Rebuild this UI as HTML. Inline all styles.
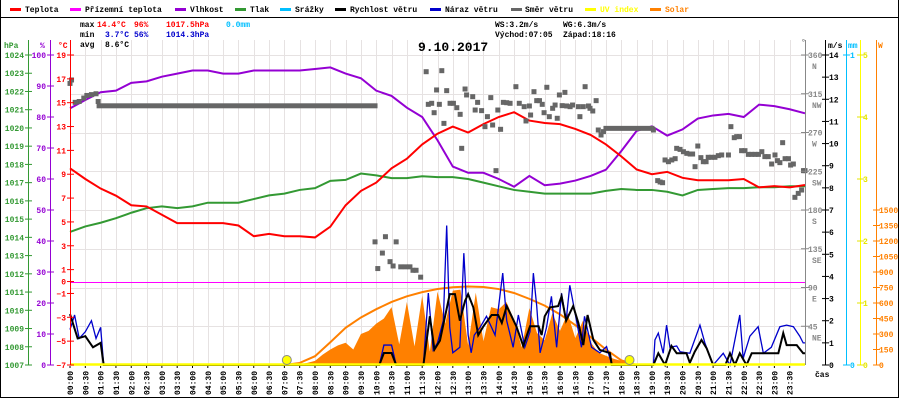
<!DOCTYPE html>
<html><head><meta charset="utf-8"><style>
html,body{margin:0;padding:0;background:#fff}
svg{display:block}
text{font-family:"Liberation Mono","DejaVu Sans Mono",monospace;font-size:8px;font-weight:bold}
</style></head><body>
<svg id="chart" width="900" height="400" viewBox="0 0 900 400" xmlns="http://www.w3.org/2000/svg">
<rect x="0" y="0" width="900" height="400" fill="#fff"/>
<g id="grid"></g>
<g id="solarLayer"></g>
<g id="dataLayer"></g>
<g id="axes"></g>
<g id="legend">
<line x1="0" y1="17.5" x2="898" y2="17.5" stroke="#000" stroke-width="1"/>
<g><rect x="10" y="8" width="11" height="3" fill="#f00"/><text x="25" y="12">Teplota</text></g>
<g><rect x="70" y="8" width="11" height="3" fill="#f0f"/><text x="85" y="12">Přízemní teplota</text></g>
<g><rect x="175" y="8" width="11" height="3" fill="#9400d3"/><text x="190" y="12">Vlhkost</text></g>
<g><rect x="235" y="8" width="11" height="3" fill="#339933"/><text x="250" y="12">Tlak</text></g>
<g><rect x="280" y="8" width="11" height="3" fill="#00bfff"/><text x="295" y="12">Srážky</text></g>
<g><rect x="335" y="8" width="11" height="3" fill="#000"/><text x="350" y="12">Rychlost větru</text></g>
<g><rect x="430" y="8" width="11" height="3" fill="#0000cc"/><text x="445" y="12">Náraz větru</text></g>
<g><rect x="511" y="8" width="11" height="3" fill="#666"/><text x="525" y="12">Směr větru</text></g>
<g><rect x="585" y="8" width="11" height="3" fill="#ff0"/><text x="600" y="12" fill="#ff0">UV index</text></g>
<g><rect x="650" y="8" width="11" height="3" fill="#ff8000"/><text x="665" y="12" fill="#ff8000">Solar</text></g>
</g>
<g>
<text x="80" y="27">max</text><text x="97" y="27" fill="#f00">14.4°C</text><text x="134" y="27" fill="#f00">96%</text><text x="166" y="27" fill="#f00">1017.5hPa</text><text x="226" y="27" fill="#00bfff">0.0mm</text>
<text x="80" y="37">min</text><text x="105" y="37" fill="#0000cc">3.7°C</text><text x="134" y="37" fill="#0000cc">56%</text><text x="166" y="37" fill="#0000cc">1014.3hPa</text>
<text x="80" y="47">avg</text><text x="105" y="47">8.6°C</text>
<text x="495" y="27">WS:3.2m/s</text><text x="563" y="27">WG:6.3m/s</text>
<text x="495" y="37">Východ:07:05</text><text x="563" y="37">Západ:18:16</text>
</g>
<text x="418" y="51" style="font-size:13px;font-weight:bold">9.10.2017</text>
<line x1="0.5" y1="0" x2="0.5" y2="398" stroke="#000"/>
<line x1="898.5" y1="0" x2="898.5" y2="398" stroke="#000"/>
<line x1="0" y1="397.5" x2="899" y2="397.5" stroke="#000"/>
</svg>
<script>
// ---- data ----
const halfHourCount = 49; // 00:00..24:00
const tempC = [9.5,8.6,7.8,7.2,6.4,6.3,5.6,4.9,4.9,4.9, 4.9,4.7,3.8,4.0,3.8,3.8,3.7,4.6,6.4,7.6, 8.3,9.5,10.3,11.5,12.4,13.0,12.5,13.2,13.8,14.2, 13.5,13.3,13.2,12.8,12.3,11.5,10.5,9.4,9.0,9.2, 8.7,8.5,8.5,8.5,8.6,7.9,8.0,7.9,8.1];
const humidity = [82.8,85.5,88,88.5,91,91.5,93,94,95,95, 94,94,95,95,95,95,95.5,96,94,92.5, 88.5,86.8,83,80,72.5,64,62,62,60,57.5, 61,58,58.5,59.5,61,63,69,75.5,77,74, 76,79.5,80.5,81,80,84,83.5,82.5,81.2];
const pressure = [1014.3,1014.6,1014.8,1015.05,1015.35,1015.6,1015.7,1015.6,1015.7,1015.9, 1015.9,1015.9,1016.1,1016.3,1016.4,1016.6,1016.7,1017.1,1017.15,1017.5, 1017.4,1017.25,1017.25,1017.35,1017.3,1017.3,1017.2,1017.0,1016.8,1016.6, 1016.5,1016.4,1016.4,1016.4,1016.4,1016.55,1016.65,1016.6,1016.6,1016.5, 1016.3,1016.6,1016.65,1016.7,1016.7,1016.75,1016.75,1016.8,1016.8];

const windTimes = [0,0.25,0.5,0.75,1.0,1.1, 10.1,10.25,10.5,10.65,
 11.54,11.75,11.9,12.08,12.4,12.57,12.73,12.9,13.0,13.17,13.33,13.5,13.77,13.98,14.1,14.26,14.42,14.58,14.8,15.02,15.3,15.4,15.5,15.67,15.94,16.05,16.2,16.43,16.6,16.76,16.9,17.09,17.3,17.63,17.69,
 19.05,19.21,19.43,19.64,19.81,20.13,20.24,20.4,20.62,20.79,21.0,21.4,21.55,21.71,21.87,22.09,22.26,23.13,23.29,23.4,23.73,23.94,24];
const windSpeed = [2.3,1.2,1.3,0.8,1.0,0, 0,0.54,0.54,0,
 0,2.2,0.7,1.1,3.2,3.2,2.0,2.9,3.2,2.6,1.35,1.75,2.26,2.26,1.9,2.66,2.2,1.73,0.86,1.75,1.75,1.35,2.2,2.6,2.66,3.1,2.0,2.66,1.9,0.9,2.26,1.13,0.68,0.54,0,
 0,0.53,0,0.86,0.53,0.53,0.1,0.6,1.13,0.75,0,0,0.53,0,0.53,0,0.53,0.53,1.44,0.9,0.9,0.53,0.53];
const gustTimes = [0,0.15,0.3,0.5,0.7,0.85,1.0,1.1, 10.1,10.25,10.5,10.65,
 11.54,11.7,11.86,12.0,12.19,12.3,12.4,12.5,12.73,12.86,13.0,13.1,13.2,13.39,13.6,13.88,14.13,14.26,14.47,14.64,14.85,15.02,15.13,15.24,15.35,15.56,15.72,15.89,16.05,16.2,16.32,16.54,16.7,16.8,17.03,17.3,17.52,17.63,17.7,
 19.05,19.1,19.21,19.37,19.48,19.59,19.81,19.92,20.24,20.57,20.73,21.0,21.33,21.55,21.87,21.98,22.2,22.47,22.64,22.9,23.18,23.4,23.62,23.83,23.94,24];
const gustSpeed = [1.6,2.26,1.2,1.5,2.0,1.2,1.7,0, 0,0.9,0.9,0,
 0,3.25,0.68,1.0,2.0,6.3,1.7,0.55,0.8,5.05,1.35,0.55,1.35,1.7,2.2,1.35,4.15,2.0,0.8,2.26,0.8,1.5,4.15,2.66,0.55,1.7,3.1,0.8,3.24,2.0,3.6,2.0,0.8,2.2,0.8,0.55,0.83,0.3,0,
 0,1.13,1.44,0.53,1.8,0.8,0.86,0.6,0.53,1.8,1.0,0,0.53,0,2.26,0.3,1.3,1.73,0.53,0.8,1.73,1.8,1.73,1.3,1.0,1.0];

const dirTimes = [0.0,0.05,0.17,0.3,0.45,0.55,0.7,0.85,0.92, 9.96,10.05,10.2,10.3,10.45,10.55,10.65,10.8,10.95,11.1,11.2,11.3,11.45,
 11.63,12.14,11.70,11.81,11.97,12.06,11.89,12.21,12.30,12.41,12.52,12.63,12.74,12.79,12.90,12.95,13.15,13.23,13.31,13.44,13.55,13.63,13.74,13.80,13.97,14.06,13.91,14.15,14.26,14.37,14.56,14.67,14.83,14.89,15.00,15.04,15.15,15.24,15.33,15.42,15.48,15.57,15.65,15.76,15.84,15.91,15.98,16.07,16.16,16.22,16.33,16.41,16.60,16.65,16.76,16.82,16.93,16.98,17.07,17.18,17.25,17.34,17.42,19.05,
 19.19,19.27,19.35,19.43,19.54,19.65,19.76,19.81,19.92,20.03,20.14,20.25,20.33,20.41,20.50,20.60,20.68,20.77,20.84,20.95,21.06,21.17,21.28,21.50,21.58,21.69,21.77,21.86,21.93,22.04,22.15,22.26,22.37,22.48,22.59,22.69,22.80,22.91,23.02,23.10,23.18,23.27,23.35,23.46,23.53,23.62,23.67,23.78,23.89,23.95,24.0];
const dirDegrees = [327,331,305,306,310,313,314,315,306, 143,112,130,149,120,115,143,114,114,114,110,110,102,
 340.6,341.8,302.7,303.9,319.4,302.7,293.0,280.6,318.6,303.9,303.9,298.8,291.1,251.6,320.5,313.6,311.6,296.1,305.0,295.4,276.8,288.4,310.5,278.7,296.1,273.7,225.7,305.0,304.6,303.9,323.2,303.9,300.0,283.4,300.8,290.3,317.4,307.0,307.0,302.7,293.0,322.5,288.4,298.1,301.9,286.5,313.6,301.2,316.6,300.8,300.0,301.9,300.0,288.4,300.0,323.2,300.8,298.1,295.0,307.0,272.9,267.1,271.0,272.9,
 214.1,212.5,211.7,238.1,236.1,238.1,239.6,251.6,250.4,247.7,245.8,245.0,245.0,230.3,254.3,240.8,236.1,236.1,241.2,241.2,241.2,243.1,243.9,243.9,276.8,264.0,265.2,265.2,248.9,248.9,244.6,244.6,244.6,244.6,247.7,242.0,242.0,233.4,243.9,237.3,235.0,258.2,239.6,239.6,232.2,233.4,194.7,199.3,203.2,225.7,225.7];
const dirSteadyStart = [0.95, 17.5];
const dirSteadyEnd = [9.96, 19.0];
const dirSteadyDeg = [301, 274.8];

const solarStartHour = 7.0, solarStepHour = 0.25;
const solarW = [0,2,8,20,40,100,150,190,215,150,300,330,400,450,560,200,610,180,670,130,710,400,720,730,190,700,230,560,540,610,440,170,550,310,240,500,330,500,260,430,220,120,90,60,40,15,0];
const solarMaxStartHour = 7.0, solarMaxStepHour = 0.5;
const solarMaxW = [0,20,85,220,360,460,540,610,665,705,735,752,760,755,735,697,640,575,490,385,270,150,45,0];
const sunTimes = [7.08, 18.27];

const tempTicks = [19,17,15,13,11,9,7,5,3,1,0,-1,-3,-5,-7];
const hpaTicks = [1024,1023,1022,1021,1020,1019,1018,1017,1016,1015,1014,1013,1012,1011,1010,1009,1008,1007];
const humTicks = [100,90,80,70,60,50,40,30,20,10,0];
const dirTicks = [360,315,270,225,180,135,90,45];
const dirNames = ["N","NW","W","SW","S","SE","E","NE"];
const msTicks = [14,13,12,11,10,9,8,7,6,5,4,3,2,1,0];
const uvTicks = [5,4,3,2,1,0];
const wTicks = [1500,1350,1200,1050,900,750,600,450,300,150,0];

// ---- scales ----
const TOP = 55, BOT = 365, LEFT = 70, RIGHT = 805;
const X = t => LEFT + t * (RIGHT - LEFT) / 24;
const yT = v => TOP + (19 - v) * (BOT - TOP) / 26;
const yP = v => TOP + (1024 - v) * (BOT - TOP) / 17;
const yH = v => BOT - v * (BOT - TOP) / 100;
const yD = v => BOT - v * (BOT - TOP) / 360;
const yW = v => BOT - v * (BOT - TOP) / 14;
const yUV = v => BOT - v * (BOT - TOP) / 5;
const ySol = v => BOT - v * 155 / 1500;

const NS = "http://www.w3.org/2000/svg";
function mk(tag, attrs, parent) {
  const e = document.createElementNS(NS, tag);
  for (const k in attrs) e.setAttribute(k, attrs[k]);
  parent.appendChild(e);
  return e;
}
const grid = document.getElementById('grid');
const axes = document.getElementById('axes');
const dl = document.getElementById('dataLayer');
const sl = document.getElementById('solarLayer');

for (let i = 0; i < 48; i++) {
  const x = Math.round(X(i * 0.5)) + 0.5;
  const g = mk('line', {x1:x, y1:40, x2:x, y2:BOT, stroke:'#e6e2e2', 'stroke-width':1}, grid);
  
  
}
dirTicks.forEach(d => {
  const y = Math.round(yD(d)) + 0.5;
  const g = mk('line', {x1:LEFT, y1:y, x2:RIGHT, y2:y, stroke:'#e6e2e2', 'stroke-width':1}, grid);
  
  
});
const zl = mk('line', {x1:LEFT, y1:Math.round(yT(0)) + 0.5, x2:RIGHT, y2:Math.round(yT(0)) + 0.5, stroke:'#ff00ff', 'stroke-width':1}, grid);



{
  let pts = [];
  solarW.forEach((v, i) => pts.push(X(solarStartHour + i * solarStepHour) + ',' + ySol(v)));
  pts.push(X(solarStartHour + (solarW.length - 1) * solarStepHour) + ',' + BOT);
  pts.push(X(solarStartHour) + ',' + BOT);
  const p = mk('polygon', {points: pts.join(' '), fill:'#ff8000'}, sl);
  
  
  const mp = solarMaxW.map((v, i) => X(solarMaxStartHour + i * solarMaxStepHour) + ',' + ySol(v)).join(' ');
  const l = mk('polyline', {points: mp, fill:'none', stroke:'#ff8000', 'stroke-width':2}, sl);
  
  
}

function series(vals, yf, color, name) {
  const pts = vals.map((v, i) => X(i * 24 / (halfHourCount - 1)) + ',' + yf(v)).join(' ');
  const l = mk('polyline', {points: pts, fill:'none', stroke:color, 'stroke-width':2}, dl);
  
  
}
series(pressure, yP, '#339933', 'pressure-line');
series(humidity, yH, '#9400d3', 'humidity-line');
series(tempC, yT, '#ff0000', 'temperature-line');

dirSteadyStart.forEach((s, i) => {
  const r = mk('rect', {x:X(s) - 2.5, y:yD(dirSteadyDeg[i]) - 2.5, width:X(dirSteadyEnd[i]) - X(s) + 5, height:5, fill:'#666'}, dl);
  
  
});
dirTimes.forEach((t, i) => {
  const r = mk('rect', {x:X(t) - 2.5, y:yD(dirDegrees[i]) - 2.5, width:5, height:5, fill:'#666'}, dl);
  
  
});

{
  const g = gustTimes.map((t, i) => X(t) + ',' + yW(gustSpeed[i])).join(' ');
  const gl = mk('polyline', {points:g, fill:'none', stroke:'#0000cc', 'stroke-width':1.3}, dl);
  
  
  const s = windTimes.map((t, i) => X(t) + ',' + yW(windSpeed[i])).join(' ');
  const wl = mk('polyline', {points:s, fill:'none', stroke:'#000', 'stroke-width':2}, dl);
  
  
}
{
  const u = mk('line', {x1:LEFT, y1:yUV(0) - 0.5, x2:RIGHT, y2:yUV(0) - 0.5, stroke:'#ff0', 'stroke-width':2.5}, dl);
  
  
  sunTimes.forEach(t => {
    const c = mk('circle', {cx:X(t), cy:BOT - 5, r:4.5, fill:'#ff0', stroke:'#888', 'stroke-width':1}, dl);
    
    
  });
}

function vaxis(x, color, name) {
  const l = mk('line', {x1:x + 0.5, y1:40, x2:x + 0.5, y2:BOT, stroke:color, 'stroke-width':1}, axes);
  
  
}
function label(x, y, txt, color, anchor, name) {
  const t = mk('text', {x:x, y:y, fill:color, 'text-anchor':anchor}, axes);
  t.textContent = txt;
  
  
}
function ticks(x, vals, yf, color, lx, anchor, name, fmt) {
  vals.forEach(v => {
    const y = yf(v);
    mk('line', {x1:x - 3, y1:y, x2:x + 4, y2:y, stroke:color, 'stroke-width':1}, axes);
    label(lx, y + 3, fmt ? fmt(v) : String(v), color, anchor, name);
  });
}
vaxis(28, '#339933', 'pressure-axis');
vaxis(50, '#9400d3', 'humidity-axis');
vaxis(70, '#ff0000', 'temperature-axis');
vaxis(805, '#888', 'direction-axis');
vaxis(825, '#000', 'wind-speed-axis');
vaxis(846, '#00bfff', 'rain-axis');
vaxis(860, '#ffff00', 'uv-axis');
vaxis(876, '#ff8000', 'solar-axis');
ticks(28, hpaTicks, yP, '#339933', 24, 'end', 'pressure-tick-label');
ticks(50, humTicks, yH, '#9400d3', 46, 'end', 'humidity-tick-label');
ticks(70, tempTicks, yT, '#ff0000', 66, 'end', 'temperature-tick-label', v => v < 0 ? '−' + Math.abs(v) : String(v));
dirTicks.forEach((d, i) => {
  const y = yD(d);
  mk('line', {x1:801, y1:y, x2:809, y2:y, stroke:'#888'}, axes);
  label(808, y + 3, String(d), '#888', 'start', 'direction-tick-label');
  label(812, y + 14, dirNames[i], '#888', 'start', 'direction-name-label');
});
ticks(825, msTicks, yW, '#000', 829, 'start', 'wind-speed-tick-label');
ticks(846, [1, 0], v => BOT - v * (BOT - TOP), '#00bfff', 850, 'start', 'rain-tick-label');
ticks(860, uvTicks, yUV, '#e6e600', 863, 'start', 'uv-tick-label');
ticks(876, wTicks, ySol, '#ff8000', 879, 'start', 'solar-tick-label');
label(4, 48, 'hPa', '#339933', 'start', 'pressure-axis-title');
label(40, 48, '%', '#9400d3', 'start', 'humidity-axis-title');
label(58, 48, '°C', '#ff0000', 'start', 'temperature-axis-title');
label(801, 45, '°', '#888', 'start', 'direction-axis-title');
label(828, 48, 'm/s', '#000', 'start', 'wind-speed-axis-title');
label(848, 48, 'mm', '#00bfff', 'start', 'rain-axis-title');
label(878, 48, 'W', '#ff8000', 'start', 'solar-axis-title');
label(815, 377, 'čas', '#000', 'start', 'time-axis-title');

for (let i = 0; i < 48; i++) {
  const t = i * 0.5;
  const x = X(t);
  mk('line', {x1:x, y1:BOT + 1, x2:x, y2:BOT + 3, stroke:'#000'}, axes);
  const hh = String(Math.floor(t)).padStart(2, '0');
  const mm = t % 1 ? '30' : '00';
  const tx = mk('text', {x:0, y:0, transform:'translate(' + (x + 3) + ',395) rotate(-90)', fill:'#000'}, axes);
  tx.textContent = hh + ':' + mm;
  
  
}
</script>
</body></html>
